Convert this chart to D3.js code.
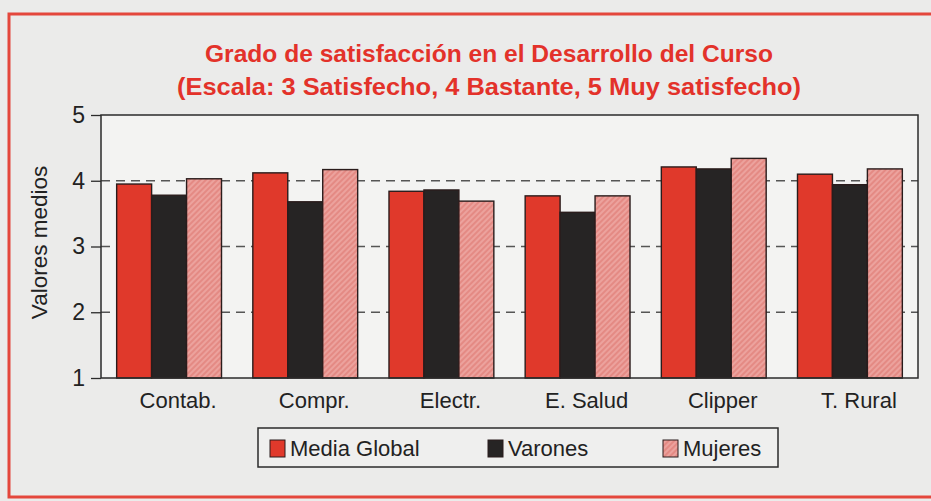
<!DOCTYPE html>
<html lang="es">
<head>
  <meta charset="utf-8">
  <script src="https://d3js.org/d3.v7.min.js"></script>
  <style>
    body { margin: 0; background: #ebebea; }
    text { font-family: "Liberation Sans", Arial, sans-serif; }
  </style>
</head>
<body>
<div id="chart"></div>
<script>

// data
var cursos = ["Contab.", "Compr.", "Electr.", "E. Salud", "Clipper", "T. Rural"];
var series = ["Media Global", "Varones", "Mujeres"];
var mediaGlobal = [3.95, 4.12, 3.84, 3.77, 4.21, 4.10];
var varones     = [3.78, 3.68, 3.86, 3.52, 4.18, 3.94];
var mujeres     = [4.03, 4.17, 3.69, 3.77, 4.34, 4.18];
var yTicks = [1, 2, 3, 4, 5];

var colores = ["#e0392b", "#262424", "url(#hatch)"];
var valores = [mediaGlobal, varones, mujeres];

var W = 931, H = 501;
var margin = {top: 115, right: 13, bottom: 123, left: 101},
  width = W - margin.left - margin.right,
  height = H - margin.top - margin.bottom;

var root = d3.select("#chart")
  .append("svg")
  .attr("width", W)
  .attr("height", H);

// pink hatch pattern for "Mujeres"
var pat = root.append("defs").append("pattern")
  .attr("id", "hatch")
  .attr("patternUnits", "userSpaceOnUse")
  .attr("width", 4).attr("height", 4)
  .attr("patternTransform", "rotate(45)");
pat.append("rect").attr("width", 4).attr("height", 4).attr("fill", "#eca29d");
pat.append("rect").attr("width", 2).attr("height", 4).attr("fill", "#e48a84");

// red frame of the figure
root.append("rect")
  .attr("x", 9).attr("y", 14)
  .attr("width", W + 10).attr("height", 483)
  .attr("fill", "none")
  .attr("stroke", "#e4473c")
  .attr("stroke-width", 3);

// title, squeezed to look like a condensed face
var titulo = [
  {t: "Grado de satisfacción en el Desarrollo del Curso", y: 62, len: 568},
  {t: "(Escala: 3 Satisfecho, 4 Bastante, 5 Muy satisfecho)", y: 95, len: 624}
];
root.selectAll(".titulo")
  .data(titulo)
  .enter()
  .append("text")
  .attr("x", 489)
  .attr("y", function(d) { return d.y; })
  .attr("text-anchor", "middle")
  .attr("textLength", function(d) { return d.len; })
  .attr("lengthAdjust", "spacingAndGlyphs")
  .style("font-weight", "bold")
  .style("font-size", "24px")
  .attr("fill", "#e3322a")
  .text(function(d) { return d.t; });

var svg = root.append("g")
  .attr("transform", "translate(" + margin.left + "," + margin.top + ")");

var x = d3.scaleBand()
  .domain(cursos)
  .range([0, width])
  .paddingInner(0.23)
  .paddingOuter(0.115);

var xs = d3.scaleBand()
  .domain(series)
  .range([0, x.bandwidth()]);

var y = d3.scaleLinear()
  .domain([1, 5])
  .range([height, 0]);

// plot background
svg.append("rect")
  .attr("width", width).attr("height", height)
  .attr("fill", "#f3f3f2");

// dashed grid lines
svg.selectAll(".grid")
  .data(yTicks.filter(function(d) { return d > 1 && d < 5; }))
  .enter()
  .append("line")
  .attr("x1", 0).attr("x2", width)
  .attr("y1", function(d) { return y(d); })
  .attr("y2", function(d) { return y(d); })
  .attr("stroke", "#555")
  .attr("stroke-width", 1.3)
  .attr("stroke-dasharray", "9,6");

// bars
var grupos = svg.selectAll(".grupo")
  .data(cursos)
  .enter()
  .append("g")
  .attr("transform", function(d) { return "translate(" + x(d) + ",0)"; });

grupos.selectAll("rect")
  .data(function(d, i) {
    return series.map(function(s, j) { return {serie: s, j: j, value: valores[j][i]}; });
  })
  .enter()
  .append("rect")
  .attr("x", function(d) { return xs(d.serie); })
  .attr("y", function(d) { return y(d.value); })
  .attr("width", xs.bandwidth())
  .attr("height", function(d) { return height - y(d.value); })
  .attr("fill", function(d) { return colores[d.j]; })
  .attr("stroke", "#2a1c1c")
  .attr("stroke-width", 1.4);

// frame
svg.append("rect")
  .attr("width", width).attr("height", height)
  .attr("fill", "none")
  .attr("stroke", "#2b2b2b")
  .attr("stroke-width", 1.5);

// y axis
var yAxis = svg.append("g")
  .call(d3.axisLeft(y).tickValues(yTicks).tickFormat(d3.format("d")).tickSize(10).tickPadding(6));
yAxis.select(".domain").remove();
yAxis.selectAll("line").attr("stroke", "#2b2b2b").attr("stroke-width", 1.3);
yAxis.selectAll("text")
  .style("font-size", "23px")
  .attr("fill", "#222");

svg.append("text")
  .attr("transform", "translate(-54," + (height / 2 - 4) + ") rotate(-90)")
  .attr("text-anchor", "middle")
  .style("font-size", "22.5px")
  .attr("fill", "#222")
  .text("Valores medios");

// x axis labels
var xAxis = svg.append("g")
  .attr("transform", "translate(0," + height + ")")
  .call(d3.axisBottom(x).tickSize(0).tickPadding(14));
xAxis.select(".domain").remove();
xAxis.selectAll("text")
  .attr("dx", 9)
  .style("font-size", "22px")
  .attr("fill", "#222");

// legend
var leg = root.append("g").attr("transform", "translate(258,428)");
leg.append("rect")
  .attr("width", 520).attr("height", 39)
  .attr("fill", "#efefee")
  .attr("stroke", "#2b2b2b")
  .attr("stroke-width", 1.5);

var legX = [12, 230, 405];
var items = leg.selectAll(".item")
  .data(series)
  .enter()
  .append("g")
  .attr("transform", function(d, i) { return "translate(" + legX[i] + ",0)"; });
items.append("rect")
  .attr("x", 0).attr("y", 12)
  .attr("width", 15).attr("height", 17)
  .attr("fill", function(d, i) { return colores[i]; })
  .attr("stroke", "#2a1c1c")
  .attr("stroke-width", 1);
items.append("text")
  .attr("x", 20).attr("y", 28)
  .style("font-size", "22px")
  .attr("fill", "#222")
  .text(function(d) { return d; });

</script>
</body>
</html>
